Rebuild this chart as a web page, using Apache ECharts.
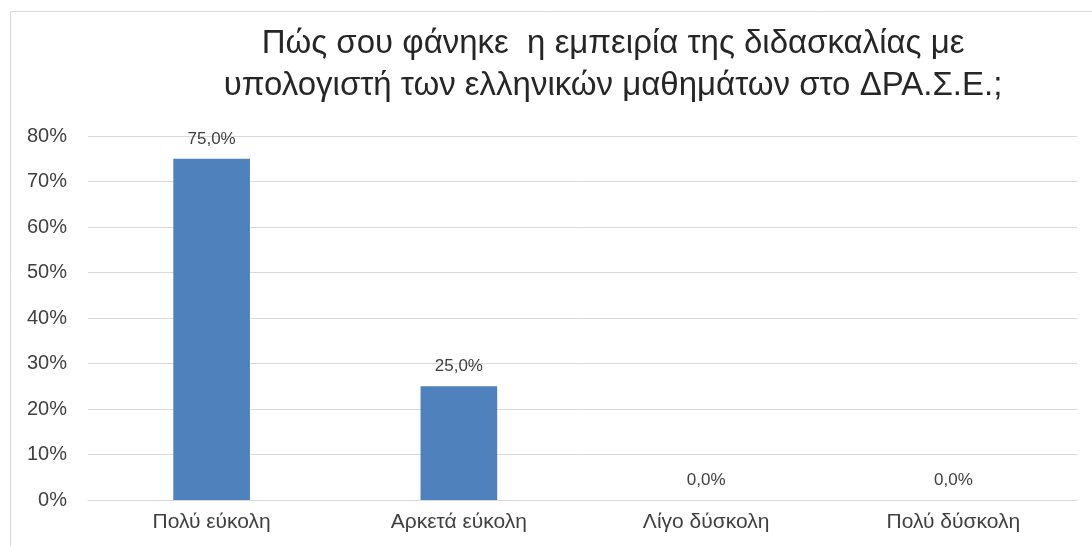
<!DOCTYPE html>
<html>
<head>
<meta charset="utf-8">
<script src="https://cdn.jsdelivr.net/npm/echarts@6/dist/echarts.min.js"></script>
<style>
  html, body { margin: 0; padding: 0; background: #fff; }
  #chart { width: 1092px; height: 546px; }
</style>
</head>
<body>
<div id="chart"></div>
<script>
// Survey answers and their shares (percent)
const categories = ['Πολύ εύκολη', 'Αρκετά εύκολη', 'Λίγο δύσκολη', 'Πολύ δύσκολη'];
const shares = [75.0, 25.0, 0.0, 0.0];
const titleLines = [
  'Πώς σου φάνηκε  η εμπειρία της διδασκαλίας με',
  'υπολογιστή των ελληνικών μαθημάτων στο ΔΡΑ.Σ.Ε.;'
];

const fmtPct = v => v.toFixed(1).replace('.', ',') + '%';
const font = '"Liberation Sans", Arial, sans-serif';

const chart = echarts.init(document.getElementById('chart'));
chart.setOption({
  backgroundColor: '#ffffff',
  animation: false,
  title: {
    text: titleLines.join('\n'),
    left: 608,
    top: 18,
    textAlign: 'center',
    textStyle: {
      fontFamily: font,
      fontWeight: 'normal',
      fontSize: 33,
      lineHeight: 42,
      color: '#262626'
    }
  },
  graphic: [{
    type: 'rect',
    shape: { x: 10.5, y: 11.5, width: 1100, height: 600 },
    style: { fill: null, stroke: '#d9d9d9', lineWidth: 1 },
    silent: true
  }],
  grid: { left: 88, right: 15, top: 136, bottom: 46 },
  xAxis: {
    type: 'category',
    data: categories,
    axisLine: { show: true, lineStyle: { color: '#d9d9d9', width: 1 } },
    axisTick: { show: false },
    axisLabel: {
      fontFamily: font,
      fontSize: 21,
      color: '#404040',
      margin: 12
    }
  },
  yAxis: {
    type: 'value',
    min: 0,
    max: 80,
    interval: 10,
    axisLine: { show: false },
    axisTick: { show: false },
    splitLine: { lineStyle: { color: '#d9d9d9', width: 1 } },
    axisLabel: {
      fontFamily: font,
      fontSize: 20,
      color: '#404040',
      margin: 21,
      formatter: v => v + '%'
    }
  },
  series: [{
    type: 'bar',
    data: shares,
    barWidth: '31%',
    itemStyle: { color: '#4f81bd' },
    label: {
      show: true,
      position: 'top',
      distance: 11,
      fontFamily: font,
      fontSize: 17,
      color: '#404040',
      formatter: p => fmtPct(p.value)
    }
  }]
});
</script>
</body>
</html>
